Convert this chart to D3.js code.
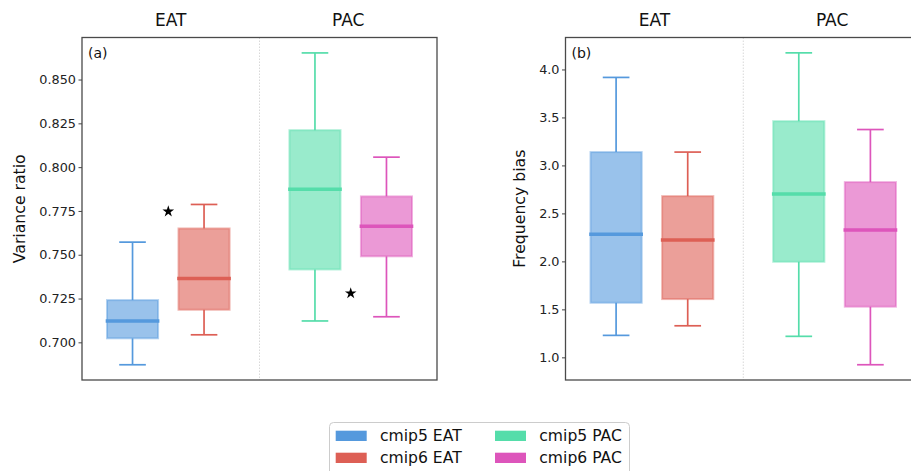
<!DOCTYPE html>
<html>
<head>
<meta charset="utf-8">
<script src="https://cdn.jsdelivr.net/npm/d3@7"></script>
<style>
  body { margin: 0; background: #fff; }
  svg { display: block; font-family: "DejaVu Sans", sans-serif; }
</style>
</head>
<body>
<svg id="chart" width="911" height="471"></svg>
<script>
// Regions shown on the x axis and the four model/region series
const regions = ["EAT", "PAC"];
const seriesNames = ["cmip5 EAT", "cmip6 EAT", "cmip5 PAC", "cmip6 PAC"];
const seriesColors = ["#5599dd", "#dd5f55", "#55ddaa", "#dd55bb"];

// Box statistics: [lower whisker, Q1, median, Q3, upper whisker]
const varianceCmip5Eat = [0.6872, 0.7023, 0.7122, 0.7241, 0.7572];
const varianceCmip6Eat = [0.7043, 0.7186, 0.7365, 0.7650, 0.7787];
const varianceCmip5Pac = [0.7122, 0.7416, 0.7874, 0.8211, 0.8652];
const varianceCmip6Pac = [0.7146, 0.7491, 0.7663, 0.7833, 0.8057];

const freqCmip5Eat = [1.229, 1.569, 2.284, 3.139, 3.917];
const freqCmip6Eat = [1.329, 1.607, 2.222, 2.680, 3.139];
const freqCmip5Pac = [1.219, 1.996, 2.702, 3.461, 4.173];
const freqCmip6Pac = [0.923, 1.528, 2.326, 2.826, 3.374];

// Significance stars per region (variance ratio panel only)
const varianceStars = [0.7747, 0.7280];
const freqStars = [];

// Tick labels
const varianceTicks = [0.700, 0.725, 0.750, 0.775, 0.800, 0.825, 0.850];
const freqTicks = [1.0, 1.5, 2.0, 2.5, 3.0, 3.5, 4.0];

const svg = d3.select("#chart");

function drawPanel(cfg) {
  const { left, right, top, bottom, yDomain, ticks, fmt, boxes, stars, tag, ylabel, ylabelX } = cfg;
  const x = d3.scaleLinear().domain([-0.473, 1.473]).range([left, right]);
  const y = d3.scaleLinear().domain(yDomain).range([bottom, top]);
  const g = svg.append("g");

  // divider between the two regions
  g.append("line")
    .attr("x1", x(0.5)).attr("x2", x(0.5))
    .attr("y1", top).attr("y2", bottom)
    .attr("stroke", "#d8d8d8").attr("stroke-width", 1)
    .attr("stroke-dasharray", "1.5,1.5");

  // region titles above the frame
  regions.forEach((r, i) => {
    const cx = i === 0 ? (x.range()[0] + x(0.5)) / 2 : (x(0.5) + x.range()[1]) / 2;
    g.append("text").attr("x", cx).attr("y", 25.5)
      .attr("text-anchor", "middle").attr("font-size", 17).attr("fill", "#111")
      .text(r);
  });

  const boxW = 0.28, off = 0.196, capW = 0.146;
  boxes.forEach((b, i) => {
    const regionIdx = Math.floor(i / 2);
    const cx = regionIdx + (i % 2 === 0 ? -off : off);
    const color = seriesColors[i];
    const [lo, q1, med, q3, hi] = b.stats;
    const bg = g.append("g");
    // whiskers
    bg.append("line").attr("x1", x(cx)).attr("x2", x(cx)).attr("y1", y(q3)).attr("y2", y(hi))
      .attr("stroke", color).attr("stroke-width", 1.7);
    bg.append("line").attr("x1", x(cx)).attr("x2", x(cx)).attr("y1", y(q1)).attr("y2", y(lo))
      .attr("stroke", color).attr("stroke-width", 1.7);
    // caps
    [lo, hi].forEach(v => {
      bg.append("line").attr("x1", x(cx - capW / 2)).attr("x2", x(cx + capW / 2))
        .attr("y1", y(v)).attr("y2", y(v))
        .attr("stroke", color).attr("stroke-width", 1.7);
    });
    // box
    bg.append("rect")
      .attr("x", x(cx - boxW / 2)).attr("width", x(cx + boxW / 2) - x(cx - boxW / 2))
      .attr("y", y(q3)).attr("height", y(q1) - y(q3))
      .attr("fill", color).attr("fill-opacity", 0.6)
      .attr("stroke", color).attr("stroke-opacity", 0.45).attr("stroke-width", 2);
    // median
    bg.append("line").attr("x1", x(cx - boxW / 2) - 1.3).attr("x2", x(cx + boxW / 2) + 1.3)
      .attr("y1", y(med)).attr("y2", y(med))
      .attr("stroke", color).attr("stroke-width", 3.5);
  });

  // significance stars at region centres
  stars.forEach((v, i) => {
    g.append("path")
      .attr("d", d3.symbol().type(d3.symbolStar).size(42)())
      .attr("transform", `translate(${x(i)},${y(v)})`)
      .attr("fill", "#000");
  });

  // frame
  g.append("rect").attr("x", left).attr("y", top)
    .attr("width", right - left).attr("height", bottom - top)
    .attr("fill", "none").attr("stroke", "#4a4a4a").attr("stroke-width", 1.3);

  // y axis
  const axis = d3.axisLeft(y).tickValues(ticks).tickFormat(d3.format(fmt))
    .tickSizeInner(3.5).tickSizeOuter(0).tickPadding(2.5);
  const ag = g.append("g").attr("transform", `translate(${left},0)`).call(axis);
  ag.select(".domain").remove();
  ag.selectAll("line").attr("stroke", "#444");
  ag.selectAll("text").attr("font-size", 12.8).attr("fill", "#222")
    .attr("font-family", "DejaVu Sans, sans-serif");

  // panel tag
  g.append("text").attr("x", left + 6).attr("y", top + 20)
    .attr("font-size", 14).attr("fill", "#111").text(tag);

  // y axis title
  g.append("text")
    .attr("transform", `translate(${ylabelX},${(top + bottom) / 2}) rotate(-90)`)
    .attr("text-anchor", "middle").attr("dy", "0.35em")
    .attr("font-size", 15.7).attr("fill", "#111").text(ylabel);
}

drawPanel({
  left: 82, right: 437, top: 37.5, bottom: 380,
  yDomain: [0.6785, 0.874], ticks: varianceTicks, fmt: ".3f",
  boxes: [varianceCmip5Eat, varianceCmip6Eat, varianceCmip5Pac, varianceCmip6Pac].map(s => ({ stats: s })),
  stars: varianceStars, tag: "(a)", ylabel: "Variance ratio", ylabelX: 19.5
});

drawPanel({
  left: 565.5, right: 921, top: 37.5, bottom: 380,
  yDomain: [0.764, 4.333], ticks: freqTicks, fmt: ".1f",
  boxes: [freqCmip5Eat, freqCmip6Eat, freqCmip5Pac, freqCmip6Pac].map(s => ({ stats: s })),
  stars: freqStars, tag: "(b)", ylabel: "Frequency bias", ylabelX: 519.5
});

// legend
const legend = svg.append("g");
legend.append("rect").attr("x", 329.5).attr("y", 422.5).attr("width", 300).attr("height", 60)
  .attr("rx", 4).attr("fill", "#fff").attr("stroke", "#cccccc").attr("stroke-width", 1);
const legendCols = [335.7, 495];
const legendRows = [430.7, 452.7];
seriesNames.forEach((name, i) => {
  const col = Math.floor(i / 2), row = i % 2;
  legend.append("rect").attr("x", legendCols[col]).attr("y", legendRows[row])
    .attr("width", 31).attr("height", 10.3).attr("fill", seriesColors[i]);
  legend.append("text").attr("x", legendCols[col] + 44.3).attr("y", legendRows[row] + 10.6)
    .attr("font-size", 15.6).attr("fill", "#111").text(name);
});
</script>
</body>
</html>
